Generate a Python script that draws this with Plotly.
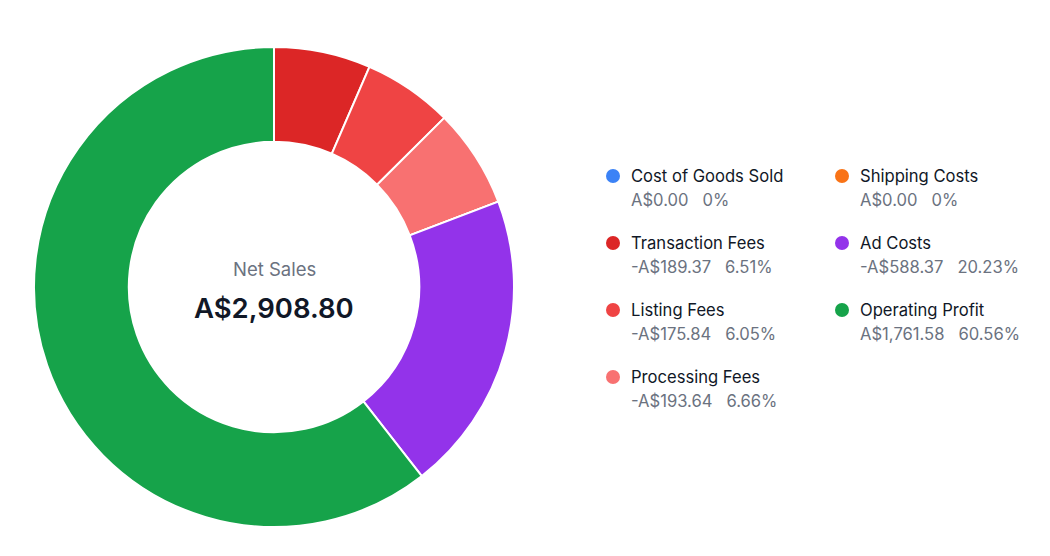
import plotly.graph_objects as go

categories = ["Cost of Goods Sold", "Transaction Fees", "Listing Fees", "Processing Fees",
              "Shipping Costs", "Ad Costs", "Operating Profit"]
amounts = [0.00, -189.37, -175.84, -193.64, 0.00, -588.37, 1761.58]
colors = ["#3b82f6", "#dc2626", "#ef4444", "#f87171", "#f97316", "#9333ea", "#16a34a"]
net_sales = 2908.80

W, H = 1050, 556
fig = go.Figure()
fig.add_trace(go.Pie(
    labels=categories, values=[abs(a) for a in amounts],
    marker=dict(colors=colors, line=dict(color="white", width=2)),
    hole=0.605, sort=False, direction="clockwise", rotation=0,
    textinfo="none", showlegend=False,
    domain=dict(x=[(274 - 240) / W, (274 + 240) / W], y=[(269 - 240) / H, (269 + 240) / H]),
))

font = "Inter, Roboto, sans-serif"
ann = []
ann.append(dict(x=274 / W, y=1 - 269 / H, xref="paper", yref="paper", text="Net Sales",
                xanchor="center", yanchor="middle",
                showarrow=False, font=dict(family=font, size=18.5, color="#6b7280")))
ann.append(dict(x=274 / W, y=1 - 308 / H, xref="paper", yref="paper",
                text=f"A${net_sales:,.2f}", xanchor="center", yanchor="middle",
                showarrow=False, font=dict(family=font, size=27.5, color="#111827", weight=600)))

shapes = []
col_x = [613, 842]
row_y = [176, 243, 310, 377]
for i, (c, a, col) in enumerate(zip(categories, amounts, colors)):
    ci = 0 if i < 4 else 1
    ri = i if i < 4 else i - 4
    mx, my = col_x[ci], row_y[ri]
    shapes.append(dict(type="circle", xref="paper", yref="paper",
                       x0=(mx - 7) / W, x1=(mx + 7) / W, y0=1 - (my + 7) / H, y1=1 - (my - 7) / H,
                       fillcolor=col, line=dict(width=0)))
    ann.append(dict(x=(mx + 16) / W, y=1 - my / H, xref="paper", yref="paper", text=c,
                    xanchor="left", yanchor="middle", showarrow=False,
                    font=dict(family=font, size=16.6, color="#111827")))
    pct = abs(a) / net_sales * 100
    pct_s = "0%" if a == 0 else f"{pct:.2f}%"
    amt_s = ("-" if a < 0 else "") + f"A${abs(a):,.2f}"
    ann.append(dict(x=(mx + 16) / W, y=1 - (my + 24) / H, xref="paper", yref="paper",
                    text=amt_s + "\u00a0\u00a0\u00a0" + pct_s,
                    xanchor="left", yanchor="middle", showarrow=False,
                    font=dict(family=font, size=16.6, color="#6b7280")))

fig.update_layout(width=W, height=H, margin=dict(l=0, r=0, t=0, b=0),
                  paper_bgcolor="white", plot_bgcolor="white",
                  annotations=ann, shapes=shapes)
fig.write_html("out.html")
